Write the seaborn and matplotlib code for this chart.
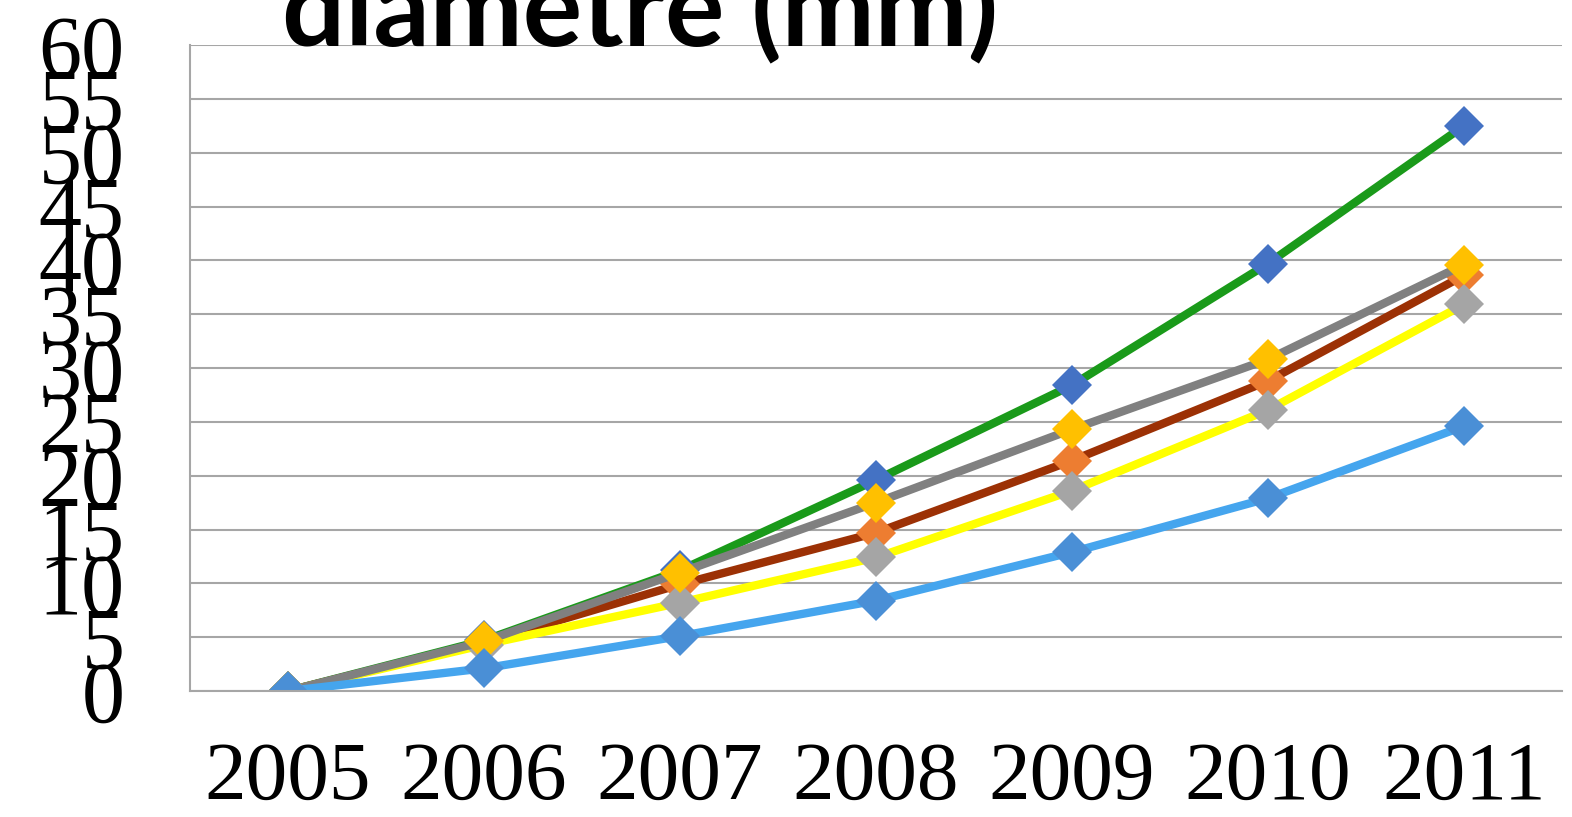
import matplotlib
matplotlib.use("Agg")
import matplotlib.pyplot as plt
import seaborn as sns
import pandas as pd

years = ["2005", "2006", "2007", "2008", "2009", "2010", "2011"]
serie_1 = [0, 4.7, 11.2, 19.6, 28.4, 39.7, 52.5]
serie_2 = [0, 4.5, 9.9, 14.7, 21.4, 28.8, 38.6]
serie_3 = [0, 4.3, 8.2, 12.4, 18.6, 26.1, 35.9]
serie_4 = [0, 4.6, 11.0, 17.5, 24.3, 30.8, 39.6]
serie_5 = [0, 2.1, 5.1, 8.4, 12.9, 17.9, 24.6]
y_ticks = [0, 5, 10, 15, 20, 25, 30, 35, 40, 45, 50, 55, 60]
title = "diamètre (mm)"

series = [
    (serie_1, "#1a9a1a", "#4472c4"),
    (serie_2, "#9c3105", "#ed7d31"),
    (serie_3, "#ffff00", "#a5a5a5"),
    (serie_4, "#808080", "#ffc000"),
    (serie_5, "#45a5ee", "#4a8fd6"),
]

sns.set_theme(style="white")
fig = plt.figure(figsize=(15.72, 8.17), dpi=100)
ax = fig.add_axes([190/1572, 1-691/817, (1562-190)/1572, (691-45)/817])

for vals, lc, mc in series:
    df = pd.DataFrame({"year": years, "v": vals})
    sns.lineplot(data=df, x="year", y="v", ax=ax, color=lc, linewidth=6,
                 marker="D", markersize=20, markerfacecolor=mc,
                 markeredgecolor=mc, markeredgewidth=0, sort=False)

ax.set_xlim(-0.5, 6.5)
ax.set_ylim(0, 60)
ax.set_yticks(y_ticks)
ax.set_yticklabels([str(t) for t in y_ticks])
ax.set_xlabel("")
ax.set_ylabel("")
ax.grid(axis="y", color="#a6a6a6", linewidth=1.5)
ax.set_axisbelow(True)
for s in ["top", "right"]:
    ax.spines[s].set_visible(False)
for s in ["left", "bottom"]:
    ax.spines[s].set_color("#a6a6a6")
    ax.spines[s].set_linewidth(1.5)
ax.tick_params(axis="y", length=0, pad=47, colors="black")
ax.tick_params(axis="x", length=0, pad=36, colors="black")
for lab in ax.get_yticklabels():
    lab.set_fontfamily("Liberation Serif")
    lab.set_fontsize(62)
    lab.set_color("black")
for lab in ax.get_xticklabels():
    lab.set_fontfamily("Liberation Serif")
    lab.set_fontsize(60)
    lab.set_color("black")

fig.text(640/1572, 1-45/817, title, ha="center", va="baseline",
         fontsize=80, fontweight="bold", family="Lato", color="black")

fig.savefig("out.png", dpi=100, facecolor="white")
